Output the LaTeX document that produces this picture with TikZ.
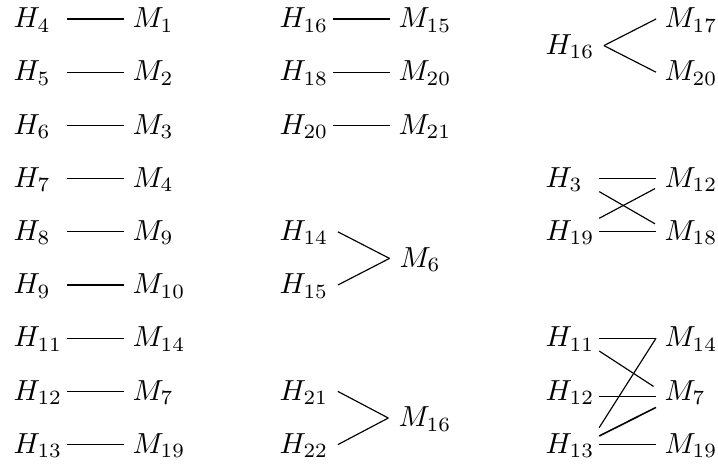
\documentclass[tikz,border=0pt]{standalone}
\begin{document}
\begin{tikzpicture}[x=0.3448pt,y=-0.3448pt,
  hn/.style={anchor=west,inner xsep=0pt,inner ysep=0pt,text width=18.28pt,align=left,text height=7.5pt,text depth=1.5pt},
  mn/.style={anchor=west,inner xsep=2.76pt,inner ysep=0pt,text height=7.5pt,text depth=1.5pt},
  ln/.style={line width=0.4pt}]
\useasboundingbox (0,0) rectangle (718,466);
% column 1
\node[hn] (ah4)  at (13,19)    {$H_4$};    \node[mn] (am1)  at (124,19)    {$M_1$};
\node[hn] (ah5)  at (13,72.2)  {$H_5$};    \node[mn] (am2)  at (124,72.2)  {$M_2$};
\node[hn] (ah6)  at (13,125.4) {$H_6$};    \node[mn] (am3)  at (124,125.4) {$M_3$};
\node[hn] (ah7)  at (13,178.6) {$H_7$};    \node[mn] (am4)  at (124,178.6) {$M_4$};
\node[hn] (ah8)  at (13,231.8) {$H_8$};    \node[mn] (am9)  at (124,231.8) {$M_9$};
\node[hn] (ah9)  at (13,285)   {$H_9$};    \node[mn] (am10) at (124,285)   {$M_{10}$};
\node[hn] (ah11) at (13,338.2) {$H_{11}$}; \node[mn] (am14) at (124,338.2) {$M_{14}$};
\node[hn] (ah12) at (13,391.4) {$H_{12}$}; \node[mn] (am7)  at (124,391.4) {$M_7$};
\node[hn] (ah13) at (13,444.6) {$H_{13}$}; \node[mn] (am19) at (124,444.6) {$M_{19}$};
\foreach \h/\m in {ah4/am1,ah5/am2,ah6/am3,ah7/am4,ah8/am9,ah9/am10,ah11/am14,ah12/am7,ah13/am19}
  \draw[ln] (\h.east) -- (\m.west);
% column 2
\node[hn] (bh16) at (279,19)    {$H_{16}$}; \node[mn] (bm15) at (390,19)    {$M_{15}$};
\node[hn] (bh18) at (279,72.2)  {$H_{18}$}; \node[mn] (bm20) at (390,72.2)  {$M_{20}$};
\node[hn] (bh20) at (279,125.4) {$H_{20}$}; \node[mn] (bm21) at (390,125.4) {$M_{21}$};
\foreach \h/\m in {bh16/bm15,bh18/bm20,bh20/bm21}
  \draw[ln] (\h.east) -- (\m.west);
\node[hn] (bh14) at (279,231.8) {$H_{14}$};
\node[hn] (bh15) at (279,285)   {$H_{15}$};
\node[mn] (bm6)  at (391,258.4) {$M_6$};
\draw[ln] ([shift={(4.7,0)}]bh14.east) -- ([shift={(-1.5,0)}]bm6.west);
\draw[ln] ([shift={(4.7,0)}]bh15.east) -- ([shift={(-1.5,0)}]bm6.west);
\node[hn] (bh21) at (279,391.4) {$H_{21}$};
\node[hn] (bh22) at (279,444.6) {$H_{22}$};
\node[mn] (bm16) at (390,418)   {$M_{16}$};
\draw[ln] ([shift={(4.7,0)}]bh21.east) -- ([shift={(-1.7,0)}]bm16.west);
\draw[ln] ([shift={(4.7,0)}]bh22.east) -- ([shift={(-1.7,0)}]bm16.west);
% column 3
\node[hn] (ch16) at (545,45.6)  {$H_{16}$};
\node[mn] (cm17) at (656,19)    {$M_{17}$};
\node[mn] (cm20) at (656,72.2)  {$M_{20}$};
\draw[ln] ([shift={(4.7,0)}]ch16.east) -- (cm17.west);
\draw[ln] ([shift={(4.7,0)}]ch16.east) -- (cm20.west);
\node[hn] (ch3)  at (545,178.6) {$H_3$};
\node[hn] (ch19) at (545,231.8) {$H_{19}$};
\node[mn] (cm12) at (656,178.6) {$M_{12}$};
\node[mn] (cm18) at (656,231.8) {$M_{18}$};
\draw[ln] (ch3.east) -- (cm12.west);
\draw[ln] (ch19.east) -- (cm18.west);
\draw[ln] ([shift={(0,13)}]ch3.east) -- ([shift={(-1,-8)}]cm18.west);
\draw[ln] ([shift={(0,-13.5)}]ch19.east) -- ([shift={(-1,10)}]cm12.west);
\node[hn] (ch11) at (545,338.2) {$H_{11}$};
\node[hn] (ch12) at (545,391.4) {$H_{12}$};
\node[hn] (ch13) at (545,444.6) {$H_{13}$};
\node[mn] (cm14) at (656,338.2) {$M_{14}$};
\node[mn] (cm7)  at (656,391.4) {$M_7$};
\node[mn] (cm19) at (656,444.6) {$M_{19}$};
\draw[ln] (ch11.east) -- (cm14.west);
\draw[ln] ([shift={(0,12.8)}]ch11.east) -- ([shift={(-2.5,-5)}]cm7.west);
\draw[ln] ([shift={(0,5.3)}]ch12.east) -- ([shift={(0,5.3)}]cm7.west);
\draw[ln] ([shift={(0,-17)}]ch13.east) -- (cm14.west);
\draw[line width=0.55pt] ([shift={(0,-8.6)}]ch13.east) -- ([shift={(0,16)}]cm7.west);
\draw[ln] (ch13.east) -- (cm19.west);
\end{tikzpicture}
\end{document}
